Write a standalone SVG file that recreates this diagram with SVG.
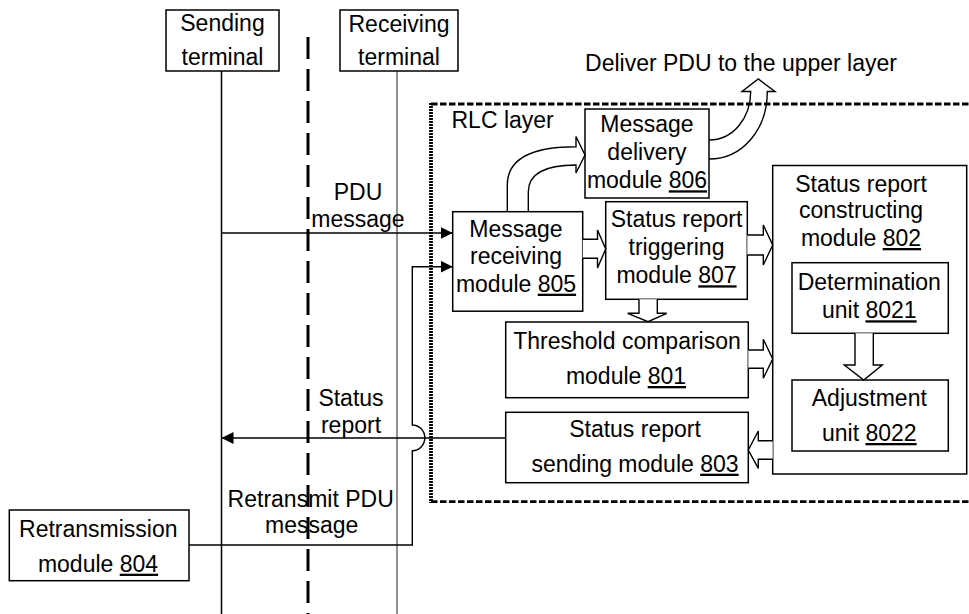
<svg xmlns="http://www.w3.org/2000/svg" width="969" height="614" viewBox="0 0 969 614">
<style>
text{font-family:"Liberation Sans",Arial,sans-serif;font-size:23px;fill:#000;text-anchor:middle}
.box{fill:#fff;stroke:#000;stroke-width:1.5}
.ln{fill:none;stroke:#000;stroke-width:1.4}
.hol{fill:#fff;stroke:#000;stroke-width:1.4;stroke-linejoin:miter}
.curv{fill:none;stroke:#000;stroke-width:1.4}
.u{text-decoration:underline}
.dash{stroke:#000;stroke-width:2.8;stroke-dasharray:6.5 2.5}
</style>
<defs>
<marker id="ah" viewBox="0 0 12 12" refX="12" refY="6" markerWidth="12" markerHeight="12" orient="auto" markerUnits="userSpaceOnUse"><path d="M0,0 L12,6 L0,12 Z" fill="#000"/></marker>
</defs>

<g id="lifelines">
<line x1="221.5" y1="71" x2="221.5" y2="614" stroke="#000" stroke-width="1.5"/>
<line x1="397" y1="71" x2="397" y2="614" stroke="#555" stroke-width="1.3"/>
<line x1="308" y1="37" x2="308" y2="614" stroke="#000" stroke-width="3" stroke-dasharray="22 10"/>
</g>

<g id="rlc-layer">
<line class="dash" x1="431" y1="104" x2="969" y2="104"/>
<line class="dash" x1="431" y1="501.7" x2="969" y2="501.7"/>
<line x1="431" y1="103" x2="431" y2="503" stroke="#000" stroke-width="3.8" stroke-dasharray="2 1"/>
<text x="451.5" y="128" style="text-anchor:start">RLC layer</text>
</g>

<g id="sending-terminal">
<rect class="box" x="166" y="10" width="113" height="61"/>
<text x="222.5" y="31">Sending</text>
<text x="222.5" y="65">terminal</text>
</g>

<g id="receiving-terminal">
<rect class="box" x="340" y="10" width="118" height="61"/>
<text x="399" y="31.5">Receiving</text>
<text x="399" y="65">terminal</text>
</g>

<g id="upper-layer-label">
<text x="741" y="71">Deliver PDU to the upper layer</text>
</g>

<g id="message-delivery-806">
<rect class="box" x="585" y="109" width="124" height="89"/>
<text x="647" y="131.7">Message</text>
<text x="647" y="160">delivery</text>
<text x="647" y="188.3">module <tspan class="u">806</tspan></text>
</g>

<g id="message-receiving-805">
<rect class="box" x="452.7" y="211.7" width="130" height="99.5"/>
<text x="516" y="236.7">Message</text>
<text x="516" y="264.3">receiving</text>
<text x="516" y="291.7">module <tspan class="u">805</tspan></text>
</g>

<g id="status-report-triggering-807">
<rect class="box" x="605.7" y="201.7" width="141.6" height="97.6"/>
<text x="676.5" y="227.3">Status report</text>
<text x="676.5" y="255">triggering</text>
<text x="676.5" y="283.3">module <tspan class="u">807</tspan></text>
</g>

<g id="threshold-comparison-801">
<rect class="box" x="505.7" y="322" width="242.6" height="75.7"/>
<text x="627" y="349.3">Threshold comparison</text>
<text x="626" y="384">module <tspan class="u">801</tspan></text>
</g>

<g id="status-report-sending-803">
<rect class="box" x="505.7" y="412.3" width="242.6" height="70.4"/>
<text x="635" y="437.3">Status report</text>
<text x="635" y="471.7">sending module <tspan class="u">803</tspan></text>
</g>

<g id="status-report-constructing-802">
<rect class="box" x="772.7" y="165.5" width="194" height="308.5"/>
<text x="861" y="191.7">Status report</text>
<text x="861" y="218.3">constructing</text>
<text x="861" y="246">module <tspan class="u">802</tspan></text>
</g>

<g id="determination-unit-8021">
<rect class="box" x="792" y="262.7" width="156.3" height="70.6"/>
<text x="869.3" y="290">Determination</text>
<text x="869.3" y="318.3">unit <tspan class="u">8021</tspan></text>
</g>

<g id="adjustment-unit-8022">
<rect class="box" x="792" y="380" width="156.3" height="71"/>
<text x="869.3" y="406">Adjustment</text>
<text x="869.3" y="441">unit <tspan class="u">8022</tspan></text>
</g>

<g id="retransmission-804">
<rect class="box" x="9.3" y="510" width="179.7" height="70.7"/>
<text x="98.3" y="537.3">Retransmission</text>
<text x="98" y="571.7">module <tspan class="u">804</tspan></text>
</g>

<g id="connectors">
<path class="ln" d="M221.5,233 H452.7" marker-end="url(#ah)"/>
<path class="ln" d="M189,545 H412.3 V450.7 A12.5,12.8 0 0 0 412.3,425 V266.7 H452.7" marker-end="url(#ah)"/>
<path class="ln" d="M505.7,438 H221.5" marker-end="url(#ah)"/>
<path class="hol" d="M582.7,239.3 H597.5 V230 L605.7,249 L597.5,268 V258.3 H582.7"/>
<path class="hol" d="M747.3,235 H763.3 V225 L772.7,245 L763.3,265 V255 H747.3"/>
<path class="hol" d="M748.3,350 H763.3 V339.3 L772.7,359 L763.3,378.3 V368.3 H748.3"/>
<path class="hol" d="M772.7,440.7 H758.3 V431 L748.3,450 L758.3,468.3 V459.3 H772.7"/>
<path class="hol" d="M639,299.3 V313.3 H627.7 L648,321.7 L666.7,313.3 H657.3 V299.3"/>
<path class="hol" d="M855,333.3 V365 H844.3 L863.7,380 L882.3,365 H873.3 V333.3"/>
<path class="curv" d="M507.3,211.7 V185 C507.3,158 532,146.7 576,146.7 V136.5 L585,155 L576,173 V165 C548,165 528.3,172 528.3,192 V211.7"/>
<path class="curv" d="M709,140 C733,140 750.7,118 750.7,91.5 H742 L758.3,79 L775,91.5 H767.3 C767.3,130 742,159 709,159"/>
<text x="358" y="200">PDU</text>
<text x="358" y="227">message</text>
<text x="351" y="406">Status</text>
<text x="351" y="433.3">report</text>
<text x="310.7" y="507.3">Retransmit PDU</text>
<text x="311.7" y="533.3">message</text>
</g>
</svg>
